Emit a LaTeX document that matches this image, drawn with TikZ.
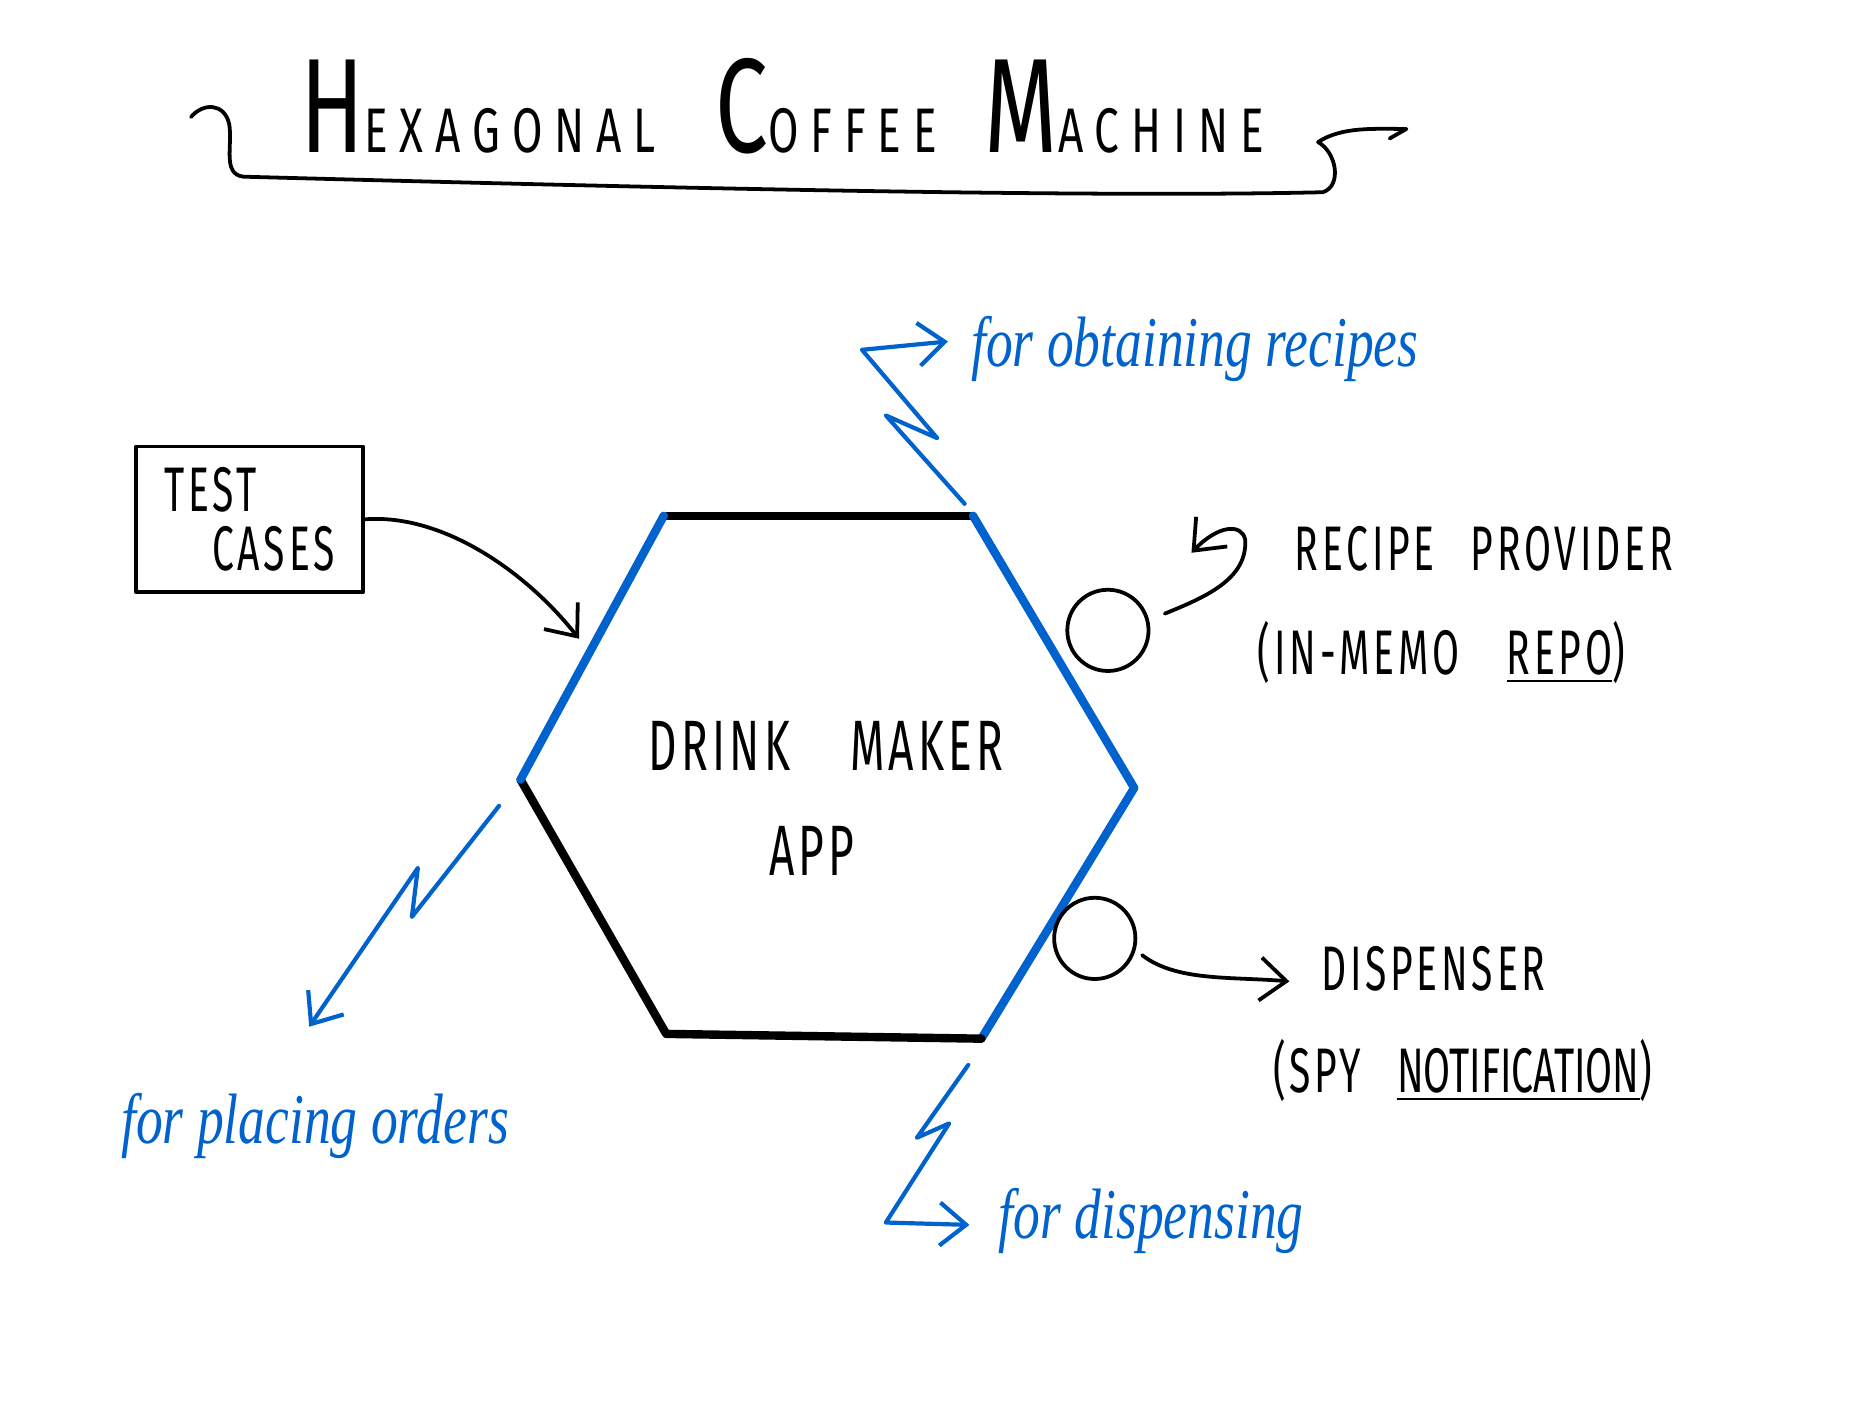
\documentclass[tikz,border=0pt]{standalone}
\usepackage{fontspec}
\usepackage{tikz}
\usetikzlibrary{calc,arrows.meta,positioning}
\newfontfamily\handfont{Fira Sans}[FakeStretch=0.62,LetterSpace=6]
\newfontfamily\titlefont{Fira Sans}[FakeStretch=0.7,LetterSpace=19]
\newfontfamily\bluefont{Liberation Serif}[FakeStretch=0.75]
\definecolor{handblue}{RGB}{0,98,204}
\newcommand{\ttlword}[2]{{\fontsize{32}{32}\selectfont #1}{\fontsize{15}{15}\selectfont #2}}

\begin{document}
\begin{tikzpicture}[x=0.01cm,y=-0.01cm,line width=.9pt,line cap=round,line join=round,
  >={Straight Barb[length=2.2mm,width=3.6mm]}]

\tikzset{hexblack/.style={line width=2pt,black},
hexblue/.style={line width=2pt,handblue},
zigzag/.style={handblue,line width=1pt,->},
port/.style={circle,draw,inner sep=0pt,minimum size=6.8mm,line width=.9pt},
handtext/.style={font=\handfont\fontsize{15}{14}\selectfont,inner sep=0pt,anchor=base west},
apptext/.style={font=\handfont\fontsize{17}{17}\selectfont,inner sep=0pt,anchor=base},
bluetext/.style={font=\bluefont\itshape\fontsize{17}{17}\selectfont,handblue,inner sep=0pt,anchor=base west},
testbox/.style={draw,minimum width=19mm,minimum height=12.2mm,align=left,font=\handfont\fontsize{15}{14}\selectfont}}

\useasboundingbox (0,0) rectangle (1568,1176);

% Title
\node[anchor=base west,inner sep=0pt,font=\titlefont] (title) at (250,128)
  {\ttlword{H}{EXAGONAL}\hspace{5mm}\ttlword{C}{OFFEE}\hspace{4mm}\ttlword{M}{ACHINE}};
\draw (160,98) .. controls (170,86) and (188,86) .. (192,104) .. controls (195,122) and (186,146) .. (204,148)
  .. controls (500,156) and (900,166) .. (1108,161) .. controls (1124,156) and (1120,128) .. (1104,119)
  .. controls (1124,106) and (1150,108) .. (1178,108) -- (1164,116);

% Hexagon
\coordinate (htl) at (556,432);
\coordinate (htr) at (815,432);
\coordinate (hr) at (950,660);
\coordinate (hbr) at (822,870);
\coordinate (hbl) at (558,866);
\coordinate (hl) at (436,653);
\draw[hexblack] (htl) -- (htr);
\draw[hexblue] (htr) -- (hr) -- (hbr);
\draw[hexblack] (hbr) -- (hbl) -- (hl);
\draw[hexblue] (hl) -- (htl);

\node[apptext] (drink) at (692,645) {DRINK\hspace{5mm}MAKER};
\node[apptext] (appname) at (680,733) {APP};

% Ports
\node[port] (recport) at (928,528) {};
\node[port] (dispport) at (917,786) {};

% Adapters
\node[handtext] (recipe) at (1083,478) {RECIPE\hspace{3mm}PROVIDER};
\node[handtext] (repo) at (1052,565) {(IN-MEMO\hspace{4mm}\underline{REPO})};
\node[handtext] (disp) at (1105,830) {DISPENSER};
\node[handtext] (spy) at (1065,915) {(SPY\hspace{3mm}\underline{\addfontfeatures{LetterSpace=0}NOTIFICATION})};

\coordinate (rechook) at (998,463);
\draw[->] ([shift={(12,-14)}]recport.east) .. controls (1010,500) and (1045,485) .. (1043,452)
  .. controls (1040,438) and (1020,440) .. (rechook);
\coordinate (disptip) at (1080,822);
\draw[->] ([shift={(4,14)}]dispport.east) .. controls (985,822) and (1030,818) .. (disptip);

% Test cases
\node[testbox] (tests) at (209,435) {TEST\\\hspace{4mm}CASES};
\coordinate (testtip) at (485,535);
\draw[->] (tests.east) .. controls (370,430) and (440,478) .. (testtip);

% Blue labels
\node[bluetext] (obtain) at (812,307) {for obtaining recipes};
\node[bluetext] (placing) at (100,958) {for placing orders};
\node[bluetext] (dispensing) at (835,1037) {for dispensing};

% Zigzags
\coordinate (obtaintip) at (794,286);
\draw[zigzag] ([shift={(-7,-10)}]htr) -- (742,348) -- (785,367) -- (722,293) -- (obtaintip);
\coordinate (placingtip) at (259,860);
\draw[zigzag] ([shift={(-18,22)}]hl) -- (345,768) -- (350,727) -- (placingtip);
\coordinate (dispensingtip) at (812,1026);
\draw[zigzag] ([shift={(-11,22)}]hbr) -- (768,953) -- (795,941) -- (742,1024) -- (dispensingtip);

\end{tikzpicture}
\end{document}
